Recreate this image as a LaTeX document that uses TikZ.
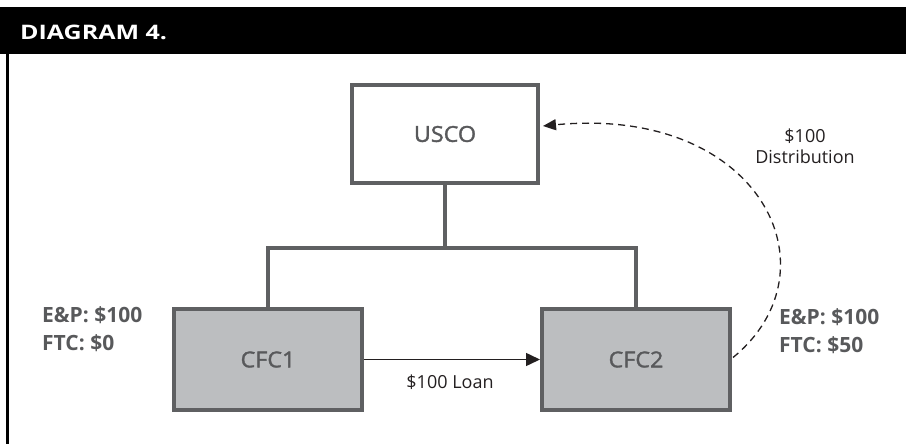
\documentclass[tikz,border=0pt]{standalone}
\usepackage{fontspec}
\setmainfont{Open Sans}
\newfontfamily\headfont[FakeStretch=1.25]{Open Sans}
\newfontfamily\boxfont[FakeStretch=1.06,FakeBold=1.6]{Open Sans}
\usetikzlibrary{arrows.meta,calc}

\definecolor{boxline}{HTML}{5F6062}
\definecolor{boxfill}{HTML}{BCBEC0}
\definecolor{labelgray}{HTML}{58595B}
\definecolor{ink}{HTML}{231F20}

\begin{document}
\begin{tikzpicture}[x=1pt,y=-1pt,
  entity/.style={draw=boxline, line width=4pt, inner sep=0pt,
    text=labelgray, font=\boxfont\fontsize{22}{26}\selectfont},
  parent/.style={entity, fill=white, minimum width=186pt, minimum height=98pt},
  sub/.style={entity, fill=boxfill, minimum width=188pt, minimum height=101pt},
  tree/.style={draw=boxline, line width=4pt},
  loan/.style={draw=ink, line width=1.5pt, -{Triangle[length=14pt,width=13pt]}},
  dist/.style={draw=ink, line width=1.3pt, dash pattern=on 7pt off 5pt,
    -{Triangle[length=13pt,width=11pt]}},
  fact/.style={align=left, text=labelgray, inner sep=0pt,
    font=\fontsize{21}{28}\selectfont\bfseries},
  note/.style={text=ink, inner sep=0pt, font=\fontsize{18}{21}\selectfont}
]
\useasboundingbox (0,0) rectangle (906,444);

% header bar and left rule
\fill[black] (0,7) rectangle (906,54);
\draw[black, line width=3pt] (7.5,54) -- (7.5,444);
\node[anchor=base west, text=white, inner sep=0pt,
      font=\headfont\fontsize{20}{24}\selectfont\bfseries] (title) at (20,39.5) {DIAGRAM 4.};

% entities
\node[parent] (usco) at (445,134) {USCO};
\node[sub] (cfc1) at (268,359.5) {CFC1};
\node[sub] (cfc2) at (636,359.5) {CFC2};

% ownership tree
\coordinate (bus) at (445,248);
\draw[tree] (usco.south) -- (bus);
\draw[tree] (cfc1.north) |- (bus);
\draw[tree] (cfc2.north) |- (bus);

% loan from CFC1 to CFC2
\draw[loan] (cfc1.east) -- (cfc2.west);
\node[note, anchor=base] (loanlbl) at (450,388) {\$100 Loan};

% distribution from CFC2 to USCO
\draw[dist] ($(cfc2.east)+(1,-2)$) .. controls (840,270) and (760,105) .. ($(usco.east)+(3,-8)$);
\node[note, align=center, anchor=base] (distlbl) at (805,164) {\$100\\Distribution};

% earnings and credits
\node[fact, anchor=base west] (fact1) at (42,350) {E\&P: \$100\\FTC: \$0};
\node[fact, anchor=base west] (fact2) at (779,352) {E\&P: \$100\\FTC: \$50};
\end{tikzpicture}
\end{document}
